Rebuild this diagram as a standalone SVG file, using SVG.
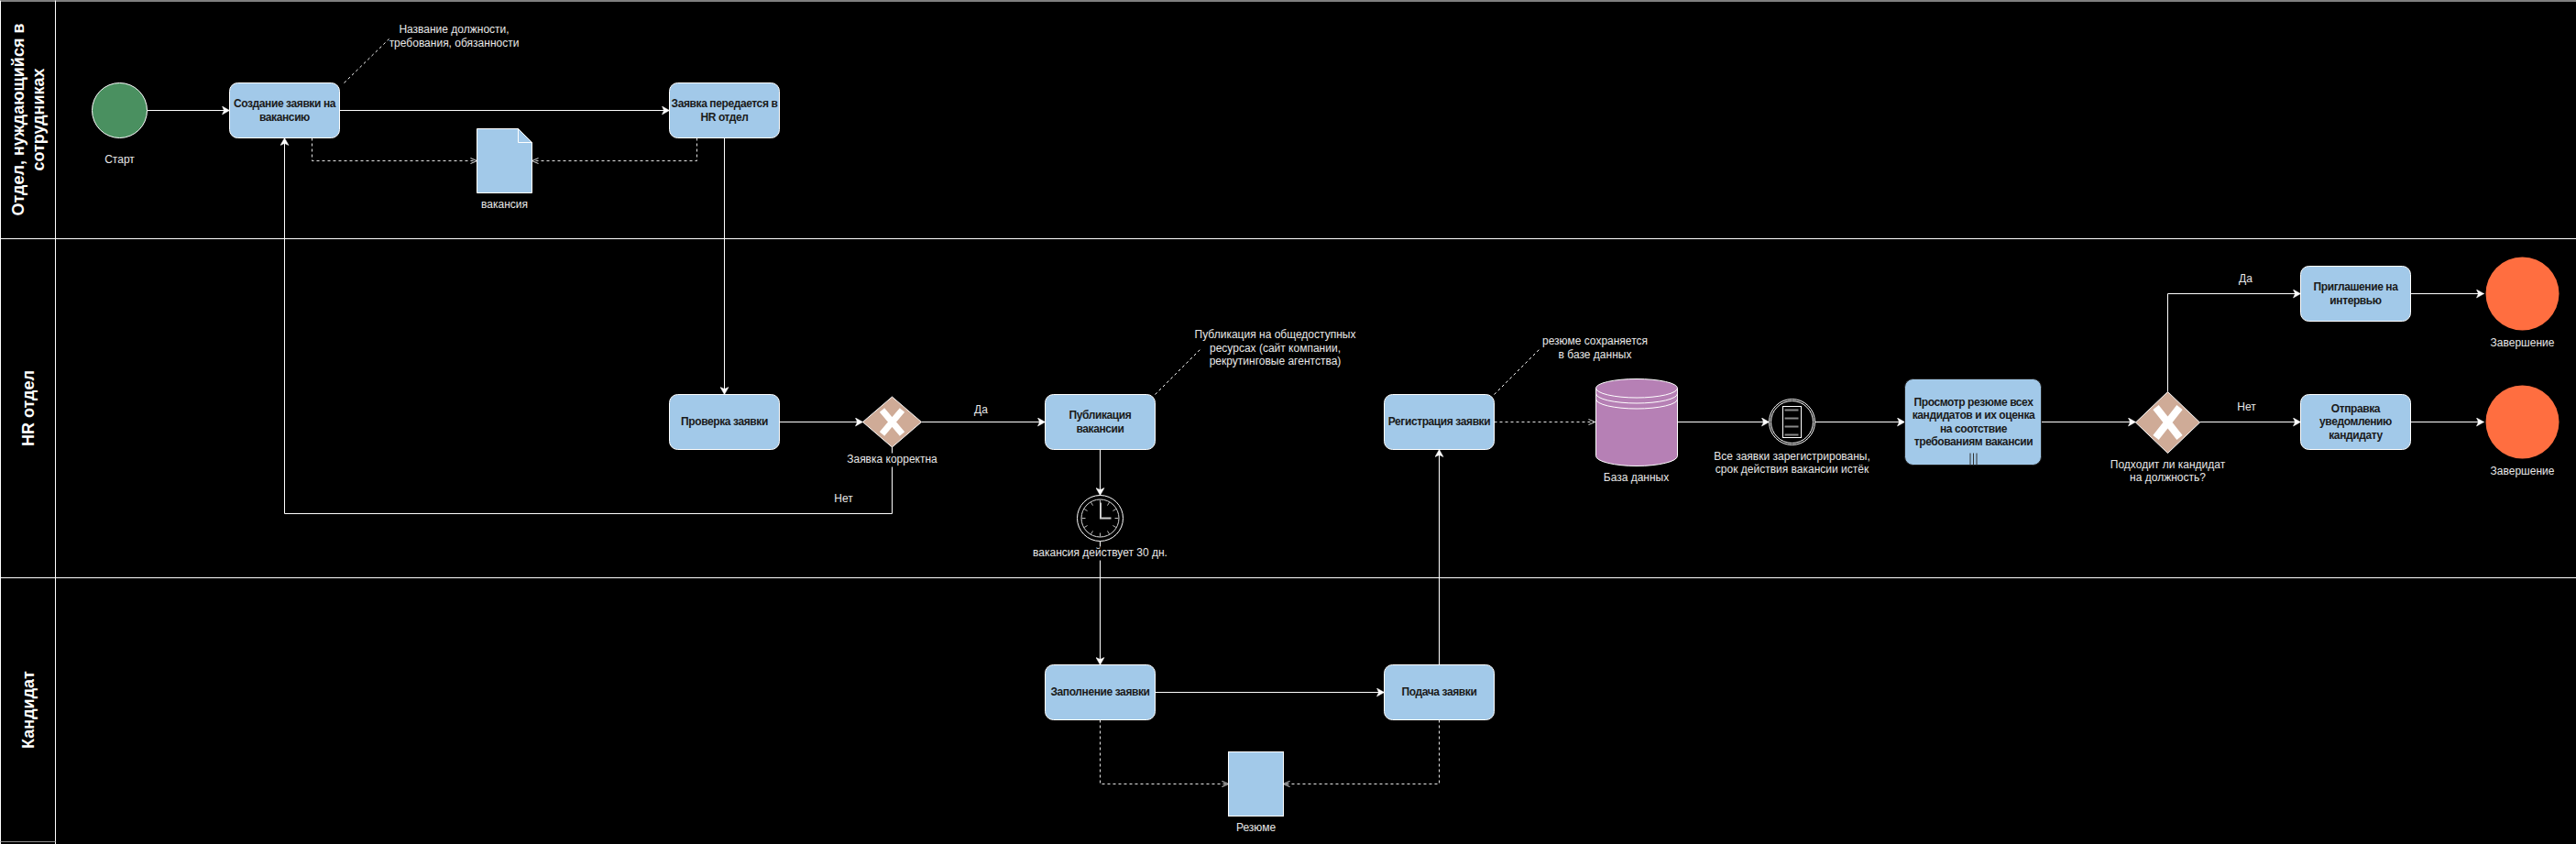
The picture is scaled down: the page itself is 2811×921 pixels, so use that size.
<svg xmlns="http://www.w3.org/2000/svg" width="2811" height="921" viewBox="0 0 2811 921">
<style>
text{font-family:"Liberation Sans",Arial,sans-serif;font-size:12px;text-anchor:middle;fill:#e8e8e8}
.t{font-weight:bold;font-size:12px;letter-spacing:-0.400px;fill:#1a1a1a}
.h{font-weight:bold;font-size:18px;fill:#fff}
.task{fill:#a2c9e9;stroke:#fff;stroke-width:1}
.flow{fill:none;stroke:#fff;stroke-width:1;marker-end:url(#arrow)}
.assoc{fill:none;stroke:#e6e6e6;stroke-width:1;stroke-dasharray:3 3;marker-end:url(#open)}
.note{fill:none;stroke:#fff;stroke-width:1;stroke-dasharray:3 3}
.lane{fill:none;stroke:#fff;stroke-width:1}
.gw{fill:#cfab97;stroke:#fff;stroke-width:1}
.x{fill:none;stroke:#fff;stroke-linecap:butt}
.bg{fill:#000}
.end{fill:#ff6e40}
</style>
<defs>
<marker id="arrow" markerUnits="userSpaceOnUse" markerWidth="9" markerHeight="10" refX="8.500" refY="5" orient="auto"><path d="M0.500,0.500 L8.500,5 L0.500,9.500 L2.500,5 Z" fill="#fff" stroke="#fff" stroke-width="0.500"/></marker>
<marker id="open" markerUnits="userSpaceOnUse" markerWidth="9" markerHeight="9" refX="8" refY="4.500" orient="auto"><path d="M1,1.500 L8,4.500 L1,7.500" fill="none" stroke="#e6e6e6" stroke-width="1"/></marker>
</defs>
<rect width="2811" height="921" fill="#000"/>
<g transform="translate(.5 .5)">
<g id="lanes">
<path class="lane" d="M0,0.500H2811M0,260H2811M0,630H2811M0,0V921M60,0V921"/>
<path d="M0,918H60" fill="none" stroke="#8a8a8a" stroke-width="1"/>
<text class="h" transform="translate(25 130) rotate(-90)"><tspan x="0" y="0">Отдел, нуждающийся в</tspan><tspan x="0" y="22">сотрудниках</tspan></text>
<text class="h" transform="translate(36 445) rotate(-90)">HR отдел</text>
<text class="h" transform="translate(36 774) rotate(-90)">Кандидат</text>
</g>
<g id="connectors">
<path class="flow" d="M160,120H250"/>
<path class="flow" d="M370,120H730"/>
<path class="flow" d="M790,150V430"/>
<path class="flow" d="M850,460H941"/>
<path class="flow" d="M1005,460H1140"/>
<path class="flow" d="M973,487V560H310V150"/>
<path class="flow" d="M1200,490V540"/>
<path class="flow" d="M1200,590V725"/>
<path class="flow" d="M1260,755H1510"/>
<path class="flow" d="M1570,725V490"/>
<path class="flow" d="M1830,460H1930"/>
<path class="flow" d="M1980,460H2078"/>
<path class="flow" d="M2227,460H2330"/>
<path class="flow" d="M2365,427V320H2510"/>
<path class="flow" d="M2400,460H2510"/>
<path class="flow" d="M2630,320H2710"/>
<path class="flow" d="M2630,460H2710"/>
<path class="assoc" d="M340,150V175H520"/>
<path class="assoc" d="M760,150V175H580"/>
<path class="assoc" d="M1630,460H1740"/>
<path class="assoc" d="M1200,785V855H1340"/>
<path class="assoc" d="M1570,785V855H1400"/>
<path class="note" d="M375,90L424,42"/>
<path class="note" d="M1260,430L1310,380"/>
<path class="note" d="M1630,430L1680,380"/>
</g>
<g id="start"><ellipse cx="130" cy="120" rx="30" ry="30" fill="#4a9060" stroke="#fff"/><text x="130" y="177.500">Старт</text></g>
<g id="task-create"><rect class="task" x="250" y="90" width="120" height="60" rx="9"/><text class="t" x="310" y="116">Создание заявки на</text><text class="t" x="310" y="131">вакансию</text></g>
<g id="note-create"><text x="495" y="35.500">Название должности,</text><text x="495" y="50.500">требования, обязанности</text></g>
<g id="task-transfer"><rect class="task" x="730" y="90" width="120" height="60" rx="9"/><text class="t" x="790" y="116">Заявка передается в</text><text class="t" x="790" y="131">HR отдел</text></g>
<g id="doc-vacancy"><path d="M520,140H565L580,155V210H520Z" fill="#a2c9e9" stroke="#fff"/><path d="M565,140V155H580" fill="none" stroke="#fff"/><text x="550" y="226.500">вакансия</text></g>
<g id="task-check"><rect class="task" x="730" y="430" width="120" height="60" rx="9"/><text class="t" x="790" y="463">Проверка заявки</text></g>
<g id="gateway-valid"><path class="gw" d="M973,432.500L1005,460L973,487.500L941,460Z"/><path class="x" stroke-width="7" d="M962,447L984,473M984,447L962,473"/><rect class="bg" x="922" y="494" width="102" height="15"/><text x="973" y="504.500">Заявка корректна</text></g>
<g id="label-yes1"><text x="1070" y="450.500">Да</text></g>
<g id="label-no1"><text x="920" y="547.500">Нет</text></g>
<g id="task-publish"><rect class="task" x="1140" y="430" width="120" height="60" rx="9"/><text class="t" x="1200" y="456">Публикация</text><text class="t" x="1200" y="471">вакансии</text></g>
<g id="note-publish"><text x="1391" y="368.500">Публикация на общедоступных</text><text x="1391" y="383.500">ресурсах (сайт компании,</text><text x="1391" y="397.500">рекрутинговые агентства)</text></g>
<g id="timer"><circle cx="1200" cy="565" r="25" fill="#000" stroke="#fff"/><circle cx="1200" cy="565" r="20.500" fill="#000" stroke="#ddd"/><path fill="none" stroke="#bbb" d="M1200,545V549M1210,547.700L1208,551.100M1217.300,555L1213.900,557M1220,565H1216M1217.300,575L1213.900,573M1210,582.300L1208,578.900M1200,585V581M1190,582.300L1192,578.900M1182.700,575L1186.100,573M1180,565H1184M1182.700,555L1186.100,557M1190,547.700L1192,551.100"/><path fill="none" stroke="#ccc" stroke-width="2" d="M1200.500,548V565H1212"/><rect class="bg" x="1125" y="596" width="150" height="15"/><text x="1200" y="606.500">вакансия действует 30 дн.</text></g>
<g id="task-register"><rect class="task" x="1510" y="430" width="120" height="60" rx="9"/><text class="t" x="1570" y="463">Регистрация заявки</text></g>
<g id="note-register"><text x="1740" y="375.500">резюме сохраняется</text><text x="1740" y="390.500">в базе данных</text></g>
<g id="database"><path d="M1741,423A44.500,10 0 0 1 1830,423V497A44.500,11 0 0 1 1741,497Z" fill="#b680b5" stroke="#fff"/><path d="M1741,423A44.500,10.500 0 0 0 1830,423M1741,429A44.500,10.500 0 0 0 1830,429M1741,435A44.500,10.500 0 0 0 1830,435" fill="none" stroke="#fff"/><text x="1785" y="524.500">База данных</text></g>
<g id="event-condition"><circle cx="1955" cy="460" r="25" fill="#000" stroke="#fff"/><circle cx="1955" cy="460" r="23" fill="none" stroke="#fff"/><rect x="1945" y="443" width="20" height="34" fill="none" stroke="#fff"/><path fill="none" stroke="#888" stroke-width="2" d="M1947,447H1962M1947,456H1962M1947,465H1962M1947,474H1962"/><text x="1955" y="501.500">Все заявки зарегистрированы,</text><text x="1955" y="515.500">срок действия вакансии истёк</text></g>
<g id="task-review"><rect x="2078" y="413" width="149" height="94" rx="9" fill="#a2c9e9" stroke="#222"/><text class="t" x="2153" y="442">Просмотр резюме всех</text><text class="t" x="2153" y="456">кандидатов и их оценка</text><text class="t" x="2153" y="471">на соотствие</text><text class="t" x="2153" y="485">требованиям вакансии</text><path fill="none" stroke="#333" d="M2149.500,494V507M2153,494V507M2156.500,494V507"/></g>
<g id="gateway-fit"><path class="gw" d="M2365,427L2400,460.500L2365,494L2330,460.500Z"/><path class="x" stroke-width="8" d="M2352,444L2378,477M2378,444L2352,477"/><text x="2365" y="510.500">Подходит ли кандидат</text><text x="2365" y="524.500">на должность?</text></g>
<g id="label-yes2"><text x="2450" y="307.500">Да</text></g>
<g id="label-no2"><text x="2451" y="447.500">Нет</text></g>
<g id="task-invite"><rect class="task" x="2510" y="290" width="120" height="60" rx="9"/><text class="t" x="2570" y="316">Приглашение на</text><text class="t" x="2570" y="331">интервью</text></g>
<g id="task-notify"><rect class="task" x="2510" y="430" width="120" height="60" rx="9"/><text class="t" x="2570" y="449">Отправка</text><text class="t" x="2570" y="463">уведомлению</text><text class="t" x="2570" y="478">кандидату</text></g>
<g id="end-yes"><circle class="end" cx="2752" cy="320" r="40"/><text x="2752" y="377.500">Завершение</text></g>
<g id="end-no"><circle class="end" cx="2752" cy="460" r="40"/><text x="2752" y="517.500">Завершение</text></g>
<g id="task-fill"><rect class="task" x="1140" y="725" width="120" height="60" rx="9"/><text class="t" x="1200" y="758">Заполнение заявки</text></g>
<g id="task-submit"><rect class="task" x="1510" y="725" width="120" height="60" rx="9"/><text class="t" x="1570" y="758">Подача заявки</text></g>
<g id="doc-resume"><rect x="1340" y="820" width="60" height="70" fill="#a2c9e9" stroke="#fff"/><text x="1370" y="906.500">Резюме</text></g>
</g>
</svg>
